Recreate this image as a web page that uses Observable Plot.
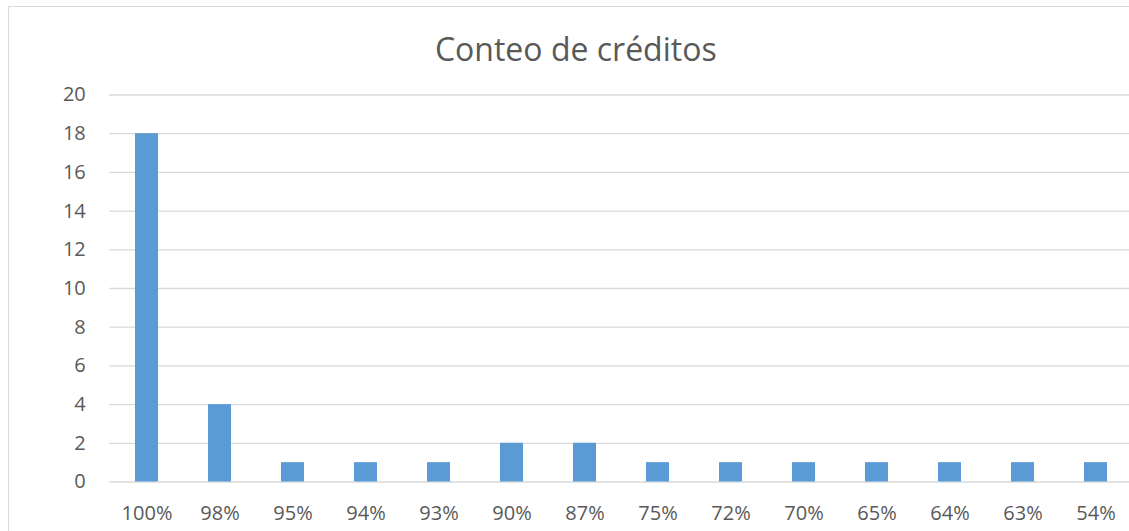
<!DOCTYPE html>
<html>
<head>
<meta charset="utf-8">
<script src="https://cdn.jsdelivr.net/npm/d3@7"></script>
<script src="https://cdn.jsdelivr.net/npm/@observablehq/plot@0.6"></script>
<style>
  html, body { margin: 0; padding: 0; background: #fff; }
  #wrap { position: relative; width: 1129px; height: 531px; overflow: hidden; background: #fff; font-family: "Open Sans", sans-serif; }
  #frame { position: absolute; left: 8px; top: 5.5px; width: 1200px; height: 600px; border: 1.3px solid #d9d9d9; box-sizing: border-box; }
  #title { position: absolute; left: 0; top: 33px; width: 1151.6px; text-align: center; font-size: 32px; line-height: 32px; color: #595959; white-space: nowrap; }
  #chart { position: absolute; left: 0; top: 80px; }
</style>
</head>
<body>
<div id="wrap">
  <div id="frame"></div>
  <div id="title">Conteo de créditos</div>
  <div id="chart"></div>
</div>
<script>
const categories = ["100%", "98%", "95%", "94%", "93%", "90%", "87%", "75%", "72%", "70%", "65%", "64%", "63%", "54%"];
const counts = [18, 4, 1, 1, 1, 2, 2, 1, 1, 1, 1, 1, 1, 1];
const yTicks = [0, 2, 4, 6, 8, 10, 12, 14, 16, 18, 20];

const data = categories.map((c, i) => ({category: c, count: counts[i]}));

const chart = Plot.plot({
  width: 1129,
  height: 451,
  marginLeft: 109.3,
  marginRight: 0,
  marginTop: 14.5,
  marginBottom: 49.5,
  style: {fontFamily: "Open Sans, sans-serif", fontSize: "20px", color: "#595959", background: "transparent", overflow: "visible"},
  x: {domain: categories, range: [109.3, 1131.8], paddingInner: 0.69, paddingOuter: 0.345, label: null},
  y: {domain: [0, 20], label: null},
  marks: [
    Plot.gridY(yTicks, {stroke: "#d9d9d9", strokeOpacity: 1, strokeWidth: 1.3}),
    Plot.barY(data, {x: "category", y: "count", fill: "#5b9bd5"}),
    Plot.axisY(yTicks, {tickSize: 0, tickPadding: 24, fill: "#595959", fontSize: 20, label: null}),
    Plot.axisX({tickSize: 0, tickPadding: 23.5, fill: "#595959", fontSize: 20, label: null})
  ]
});
document.getElementById("chart").appendChild(chart);
</script>
</body>
</html>
